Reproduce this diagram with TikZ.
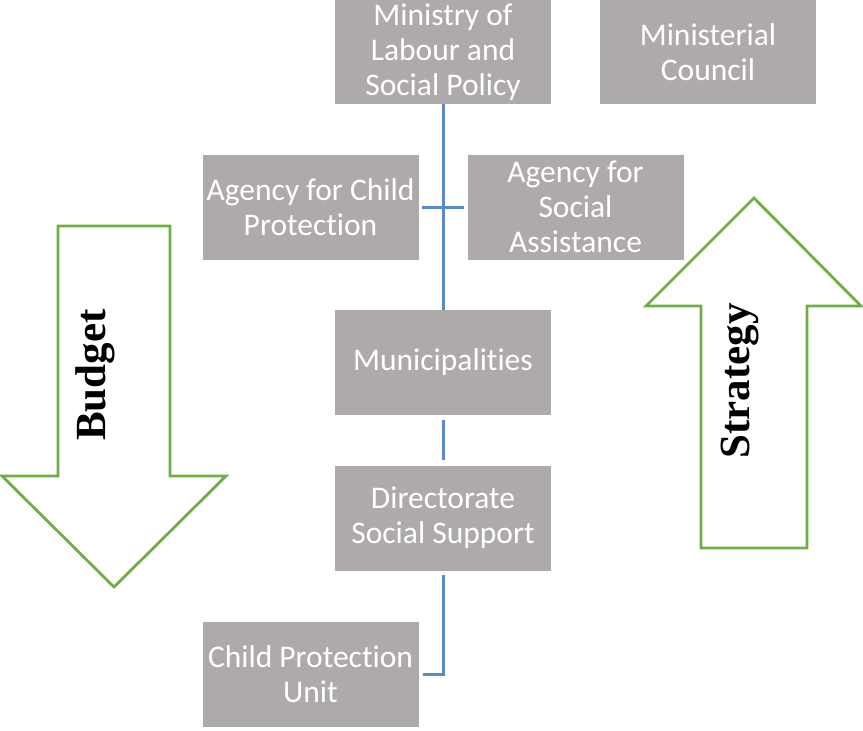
\documentclass[tikz,border=0pt]{standalone}
\usepackage{fontspec}
\setmainfont{Liberation Serif}
\newfontfamily\boxfont[Ligatures=NoCommon]{Carlito}
\definecolor{boxgray}{HTML}{AEAAAA}
\definecolor{linkblue}{HTML}{5B8BC2}
\definecolor{arrowgreen}{HTML}{70AD47}
\tikzset{
  orgbox/.style={fill=boxgray,text=white,align=center,inner sep=0pt,minimum width=216pt,minimum height=105pt,font=\boxfont\fontsize{31.5}{35}\selectfont},
  link/.style={draw=linkblue,line width=3pt},
  flow/.style={draw=arrowgreen,line width=2.8pt,line join=miter},
  flowtext/.style={font=\bfseries\fontsize{43}{48}\selectfont,rotate=90}
}
\begin{document}
\begin{tikzpicture}[x=1pt,y=-1pt]
				\useasboundingbox (0,0) rectangle (863,731);
				\node[orgbox,minimum height=104pt] (ministry) at (443,52) {Ministry of\\Labour and\\Social Policy};
				\node[orgbox,minimum height=104pt] (council) at (708,52) {Ministerial\\Council};
				\node[orgbox] (childagency) at (310.5,207) {Agency for Child\\Protection};
				\node[orgbox] (socialagency) at (575.5,207) {Agency for\\Social\\Assistance};
				\node[orgbox] (municip) at (443,362.5) {Municipalities};
				\node[orgbox] (directorate) at (443,518) {Directorate\\Social Support};
				\node[orgbox] (unit) at (310.5,674) {Child Protection\\Unit};

				\draw[link] (ministry.south) -- (municip.north);
				\draw[link] ([xshift=3pt]childagency.east) -- ([xshift=-3pt]socialagency.west);
				\draw[link] ([yshift=-5pt]municip.south) -- ([yshift=5pt]directorate.north);
				\draw[link] ([yshift=-4pt]directorate.south) |- ([xshift=4pt]unit.east);

				\draw[flow] (58,226)--(170,226)--(170,476)--(226,476)--(114,587)--(2,476)--(58,476)--cycle;
				\draw[flow] (701,548)--(807,548)--(807,306)--(861,306)--(754,198)--(646,306)--(701,306)--cycle;
				\node[flowtext] (budget) at (95,375) {Budget};
				\node[flowtext] (strategy) at (740,381) {Strategy};
			\end{tikzpicture}
\end{document}
